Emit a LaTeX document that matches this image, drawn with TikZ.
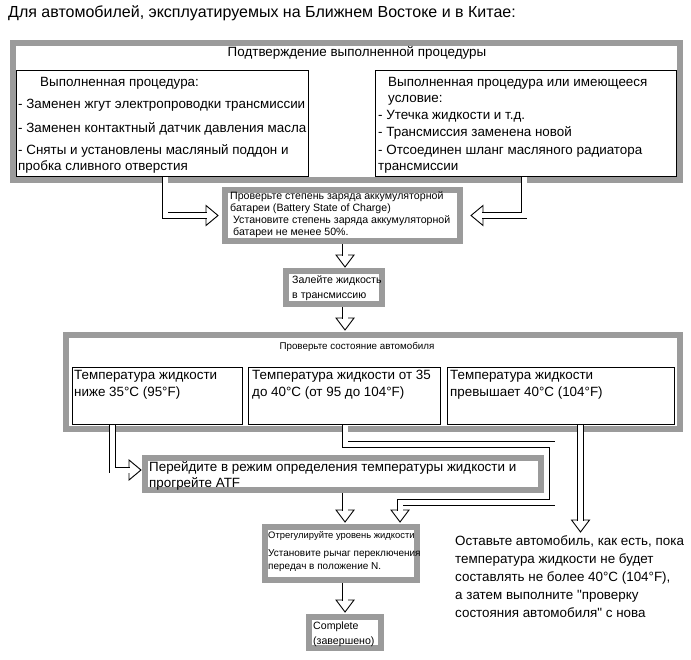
\documentclass[tikz,border=0pt]{standalone}
\usepackage{fontspec}
\setmainfont{Liberation Sans}
\newfontfamily\plainsans{Liberation Sans}
\usetikzlibrary{calc}
\definecolor{boxgray}{RGB}{155,155,155}
\begin{document}
\begin{tikzpicture}[x=1pt,y=-1pt,
  frame/.style={draw=boxgray, line width=6pt, fill=white, inner sep=0pt, anchor=north west},
  inbox/.style={draw=black, line width=0.8pt, fill=white, inner sep=0pt, anchor=north west},
  tl/.style={anchor=base west, inner sep=0pt, font=\fontsize{13.4}{16}\selectfont},
  tm/.style={anchor=base west, inner sep=0pt, font=\fontsize{10.6}{12.5}\selectfont},
  ts/.style={anchor=base west, inner sep=0pt, font=\fontsize{9.4}{11}\selectfont},
  shaft/.style={draw=black, line width=0.9pt, double=white, double distance=5pt, line join=miter},
  head/.style={draw=black, fill=white, line width=0.9pt, line join=miter},
  hdown/.pic={\path[head] (0,0) -- (-9,-12) -- (9,-12) -- cycle;},
  hright/.pic={\path[head] (0,0) -- (-12,-10) -- (-12,10) -- cycle;},
  hleft/.pic={\path[head] (0,0) -- (12,-10) -- (12,10) -- cycle;}
]
\fill[white] (0,0) rectangle (691,660);
\useasboundingbox (0,0) rectangle (691,660);

% title
\node[tl, font=\fontsize{16}{19}\selectfont] (title) at (8,17.5) {Для автомобилей, эксплуатируемых на Ближнем Востоке и в Китае:};

% box 1
\node[frame, minimum width=667, minimum height=137] (b1) at (10,40) {};
\node[inbox, minimum width=292, minimum height=106] (L) at (16,70) {};
\node[inbox, minimum width=301, minimum height=106] (R) at (375,70) {};
\node[tl, anchor=base] (h1) at (357,56.5) {Подтверждение выполненной процедуры};
\node[tl] (l1) at (40,86.7) {Выполненная процедура:};
\node[tl] (l2) at (18,108.7) {- Заменен жгут электропроводки трансмиссии};
\node[tl] (l3) at (18,132.7) {- Заменен контактный датчик давления масла};
\node[tl] (l4) at (18,154.7) {- Сняты и установлены масляный поддон и};
\node[tl] (l5) at (18,170.7) {пробка сливного отверстия};
\node[tl] (r1) at (388,86.7) {Выполненная процедура или имеющееся};
\node[tl] (r2) at (388,102.7) {условие:};
\node[tl] (r3) at (378,119.7) {- Утечка жидкости и т.д.};
\node[tl] (r4) at (378,136.7) {- Трансмиссия заменена новой};
\node[tl] (r5) at (378,154.7) {- Отсоединен шланг масляного радиатора};
\node[tl] (r6) at (378,170.7) {трансмиссии};

% battery box
\node[frame, minimum width=235, minimum height=51] (bat) at (222,187) {};
\node[tm] (bt1) at (230,199.5) {Проверьте степень заряда аккумуляторной};
\node[tm] (bt2) at (230,211.5) {батареи (Battery State of Charge)};
\node[tm] (bt3) at (233,224) {Установите степень заряда аккумуляторной};
\node[tm] (bt4) at (233,236) {батареи не менее 50\%.};

% fill box
\node[frame, minimum width=96, minimum height=33] (fill) at (283,268) {};
\node[tm] (ft1) at (292,283.5) {Залейте жидкость};
\node[tm] (ft2) at (292,298.5) {в трансмиссию};

% box 2
\node[frame, minimum width=614, minimum height=94] (b2) at (63,332) {};
\node[inbox, minimum width=170, minimum height=57] (A) at (72,367) {};
\node[inbox, minimum width=192, minimum height=57] (B) at (248,367) {};
\node[inbox, minimum width=227, minimum height=57] (C) at (447,367) {};
\node[ts, anchor=base, font=\fontsize{9.8}{11}\selectfont] (h2) at (357,349.5) {Проверьте состояние автомобиля};
\node[tl] (a1) at (74,379.7) {Температура жидкости};
\node[tl] (a2) at (74,396.7) {ниже 35°C (95°F)};
\node[tl] (bb1) at (252,379.7) {Температура жидкости от 35};
\node[tl] (bb2) at (252,396.7) {до 40°C (от 95 до 104°F)};
\node[tl] (c1) at (450,379.7) {Температура жидкости};
\node[tl] (c2) at (450,396.7) {превышает 40°C (104°F)};

% warm-up box
\node[frame, minimum width=396, minimum height=32] (P) at (142,455) {};
\node[tl] (p1) at (149,471.7) {Перейдите в режим определения температуры жидкости и};
\node[tl] (p2) at (149,487.7) {прогрейте ATF};

% adjust box
\node[frame, minimum width=152, minimum height=53] (adj) at (262,524) {};
\node[ts] (ad1) at (268,538.5) {Отрегулируйте уровень жидкости};
\node[tm, font=\fontsize{10}{12}\selectfont] (ad2) at (268,556.5) {Установите рычаг переключения};
\node[tm, font=\fontsize{10}{12}\selectfont] (ad3) at (268,569.5) {передач в положение N.};

% complete box
\node[frame, minimum width=72, minimum height=31] (comp) at (306,614) {};
\node[tm] (cp1) at (313,629.7) {Complete};
\node[tm] (cp2) at (313,644.7) {(завершено)};

% right note
\node[tl] (n1) at (455,545.7) {Оставьте автомобиль, как есть, пока};
\node[tl] (n2) at (455,563.7) {температура жидкости не будет};
\node[tl] (n3) at (455,581.7) {составлять не более 40°C (104°F),};
\node[tl] (n4) at (455,599.7) {а затем выполните {\plainsans"}проверку};
\node[tl] (n5) at (455,617.7) {состояния автомобиля{\plainsans"} с нова};

% connectors into battery box
\pic at ($(bat.west)+(-4,0)$) {hright};
\draw[shaft] ([xshift=149pt]L.south west) |- ($(bat.west)+(-15,0)$);
\pic at ($(bat.east)+(8,0)$) {hleft};
\draw[shaft] ([xshift=149pt]R.south west) |- ($(bat.east)+(19,0)$);

% vertical main arrows
\coordinate (ax) at (345,0);
\pic at ($(ax |- fill.north)+(0,-1)$) {hdown};
\draw[shaft] (ax |- bat.south) -- ($(ax |- fill.north)+(0,-12)$);
\pic at ($(ax |- b2.north)+(0,-2)$) {hdown};
\draw[shaft] (ax |- fill.south) -- ($(ax |- b2.north)+(0,-13)$);
\pic at ($(ax |- adj.north)+(0,-2)$) {hdown};
\draw[shaft] (ax |- P.south) -- ($(ax |- adj.north)+(0,-13)$);
\pic at ($(ax |- comp.north)+(0,-2)$) {hdown};
\draw[shaft] (ax |- adj.south) -- ($(ax |- comp.north)+(0,-13)$);

% from box A to warm-up box
\pic at ($(P.west)+(-1,-4)$) {hright};
\draw[shaft] ([xshift=40.5pt]A.south west) |- ($(P.west)+(-12,-4)$);

% from box B to adjust box
\coordinate (bc1) at (552,444.5);
\coordinate (bc2) at (400,502.5);
\pic at ($(bc2 |- adj.north)+(0,-2)$) {hdown};
\draw[shaft] ([xshift=97pt]B.south west) |- (bc1) |- (bc2) -- ($(bc2 |- adj.north)+(0,-13)$);

% from box C to note
\coordinate (cc) at (580.5,532);
\pic at (cc) {hdown};
\draw[shaft] ([xshift=133.5pt]C.south west) -- ($(cc)+(0,-11)$);
\end{tikzpicture}
\end{document}
